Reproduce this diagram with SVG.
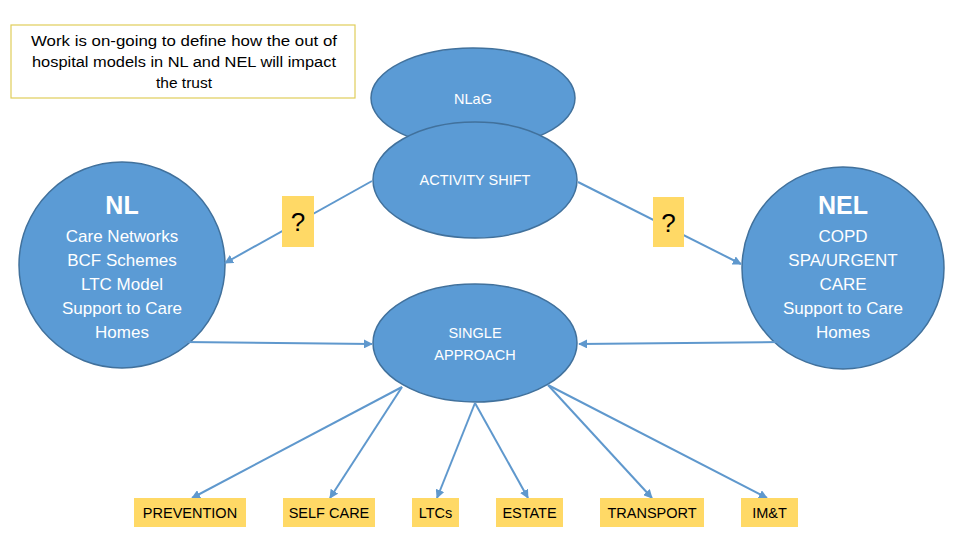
<svg xmlns="http://www.w3.org/2000/svg" width="960" height="540" viewBox="0 0 960 540">
<style>
  .ell{fill:#5b9bd5;stroke:#41719c;stroke-width:1.5}
  .wt{fill:#ffffff;font-family:"Liberation Sans",Arial,sans-serif;text-anchor:middle}
  .bt{fill:#000000;font-family:"Liberation Sans",Arial,sans-serif;text-anchor:middle}
  .box{fill:#ffd966}
  .con{stroke:#5f98cd;stroke-width:2;fill:none;marker-end:url(#ah)}
</style>
<defs>
  <marker id="ah" viewBox="0 0 10 10" refX="9" refY="5" markerWidth="9" markerHeight="9" markerUnits="userSpaceOnUse" orient="auto">
    <path d="M0,0 L10,5 L0,10 z" fill="#5f98cd"/>
  </marker>
</defs>
<rect width="960" height="540" fill="#ffffff"/>

<g id="note">
  <rect x="11" y="25" width="344" height="73" fill="#ffffff" stroke="#e0cd5a" stroke-width="1.2"/>
  <text class="bt" font-size="15.5" x="184" y="46" textLength="306" lengthAdjust="spacingAndGlyphs">Work is on-going to define how the out of</text>
  <text class="bt" font-size="15.5" x="184" y="67" textLength="304" lengthAdjust="spacingAndGlyphs">hospital models in NL and NEL will impact</text>
  <text class="bt" font-size="15.5" x="184" y="88">the trust</text>
</g>

<g id="nlag">
  <ellipse class="ell" cx="473" cy="98" rx="102" ry="50"/>
  <text class="wt" font-size="14.5" x="473" y="104">NLaG</text>
</g>
<g id="activity-shift">
  <ellipse class="ell" cx="475" cy="180" rx="102" ry="58"/>
  <text class="wt" font-size="14.5" x="475" y="185">ACTIVITY SHIFT</text>
</g>
<g id="single-approach">
  <ellipse class="ell" cx="475" cy="343" rx="102" ry="59"/>
  <text class="wt" font-size="14.5" x="475" y="338">SINGLE</text>
  <text class="wt" font-size="14.5" x="475" y="360">APPROACH</text>
</g>
<g id="nl">
  <circle class="ell" cx="122" cy="265" r="103"/>
  <text class="wt" font-size="25" font-weight="bold" x="122" y="214">NL</text>
  <text class="wt" font-size="17" x="122" y="242">Care Networks</text>
  <text class="wt" font-size="17" x="122" y="266">BCF Schemes</text>
  <text class="wt" font-size="17" x="122" y="290">LTC Model</text>
  <text class="wt" font-size="17" x="122" y="314">Support to Care</text>
  <text class="wt" font-size="17" x="122" y="338">Homes</text>
</g>
<g id="nel">
  <circle class="ell" cx="843" cy="268" r="101"/>
  <text class="wt" font-size="25" font-weight="bold" x="843" y="214">NEL</text>
  <text class="wt" font-size="17" x="843" y="242">COPD</text>
  <text class="wt" font-size="17" x="843" y="266">SPA/URGENT</text>
  <text class="wt" font-size="17" x="843" y="290">CARE</text>
  <text class="wt" font-size="17" x="843" y="314">Support to Care</text>
  <text class="wt" font-size="17" x="843" y="338">Homes</text>
</g>

<g id="connectors">
  <line class="con" x1="372" y1="181" x2="225" y2="263"/>
  <line class="con" x1="578" y1="182" x2="741" y2="264"/>
  <line class="con" x1="184" y1="342" x2="372" y2="344"/>
  <line class="con" x1="781" y1="342" x2="579" y2="344"/>
  <line class="con" x1="402" y1="387" x2="192" y2="498"/>
  <line class="con" x1="402" y1="387" x2="330" y2="498"/>
  <line class="con" x1="475" y1="403" x2="437" y2="498"/>
  <line class="con" x1="475" y1="403" x2="528" y2="498"/>
  <line class="con" x1="548" y1="385" x2="652" y2="498"/>
  <line class="con" x1="548" y1="385" x2="767" y2="498"/>
</g>

<g id="q-left">
  <rect class="box" x="282" y="196" width="32" height="51"/>
  <text class="bt" font-size="26" x="298" y="231">?</text>
</g>
<g id="q-right">
  <rect class="box" x="653" y="197" width="31" height="50"/>
  <text class="bt" font-size="26" x="668.5" y="232">?</text>
</g>

<g id="prevention">
  <rect class="box" x="134" y="498" width="112" height="29"/>
  <text class="bt" font-size="14.5" x="190" y="518">PREVENTION</text>
</g>
<g id="self-care">
  <rect class="box" x="283" y="498" width="92" height="29"/>
  <text class="bt" font-size="14.5" x="329" y="518">SELF CARE</text>
</g>
<g id="ltcs">
  <rect class="box" x="412" y="498" width="47" height="29"/>
  <text class="bt" font-size="14.5" x="435.5" y="518">LTCs</text>
</g>
<g id="estate">
  <rect class="box" x="496" y="498" width="67" height="29"/>
  <text class="bt" font-size="14.5" x="529.5" y="518">ESTATE</text>
</g>
<g id="transport">
  <rect class="box" x="600" y="498" width="104" height="29"/>
  <text class="bt" font-size="14.5" x="652" y="518">TRANSPORT</text>
</g>
<g id="imt">
  <rect class="box" x="741" y="498" width="57" height="29"/>
  <text class="bt" font-size="14.5" x="769.5" y="518">IM&amp;T</text>
</g>
</svg>
